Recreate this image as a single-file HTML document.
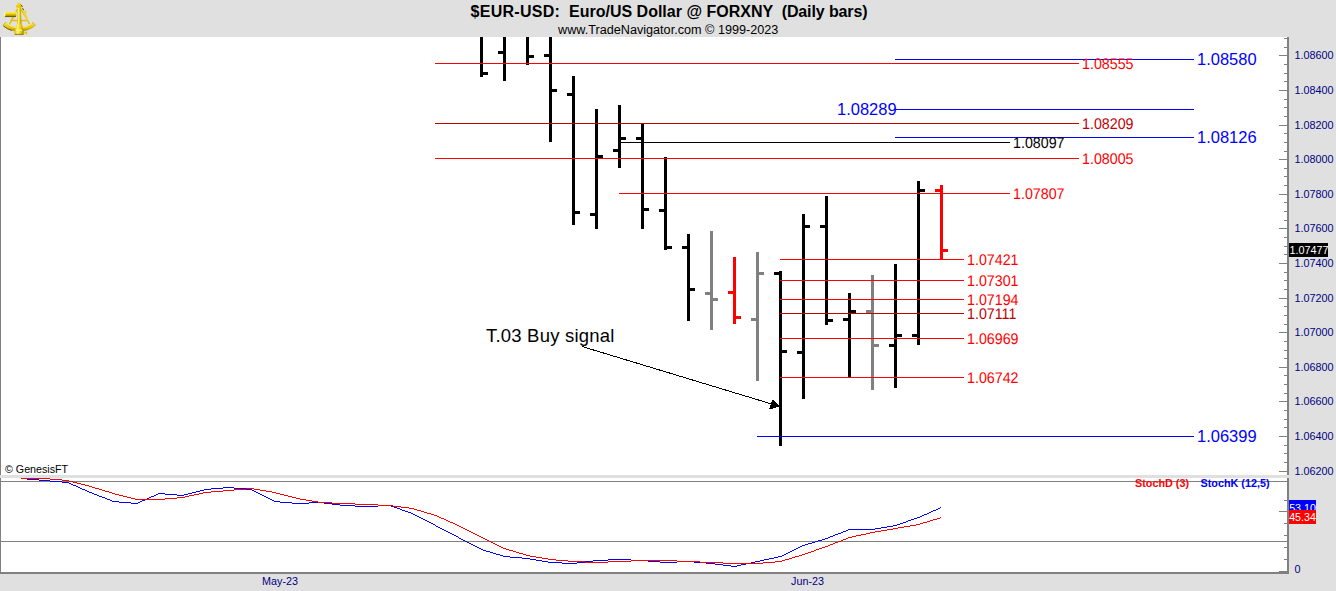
<!DOCTYPE html>
<html lang="en"><head><meta charset="utf-8"><title>$EUR-USD: Euro/US Dollar @ FORXNY (Daily bars)</title>
<style>
html,body{margin:0;padding:0}
body{width:1336px;height:591px;position:relative;overflow:hidden;background:#e0e0e0;font-family:"Liberation Sans",sans-serif;}
.r{position:absolute}
.t{position:absolute;white-space:pre;line-height:1;}
.ax{position:absolute;left:1294.5px;font-size:10.8px;color:#000080;line-height:12px;height:12px;white-space:pre}
svg{position:absolute;left:0;top:0}
</style></head><body>

<div class="r" style="left:0px;top:37px;width:1287px;height:438px;background:#fff;"></div>
<div class="r" style="left:0px;top:478px;width:1287px;height:94px;background:#fff;"></div>
<div class="r" style="left:0px;top:37px;width:1px;height:438px;background:#808080;"></div>
<div class="r" style="left:0px;top:478px;width:1px;height:96px;background:#808080;"></div>
<div class="r" style="left:1287px;top:37px;width:2px;height:438px;background:#808080;"></div>
<div class="r" style="left:1287px;top:478px;width:2px;height:96px;background:#808080;"></div>
<div class="r" style="left:0px;top:572px;width:1289px;height:2px;background:#808080;"></div>
<div class="r" style="left:1px;top:481px;width:1286px;height:1px;background:#808080;"></div>
<div class="r" style="left:1px;top:541px;width:1286px;height:1px;background:#808080;"></div>
<div class="t" id="title" style="left:470.5px;top:4px;font-size:16px;font-weight:bold;color:#000;"><span style="letter-spacing:.28px">$EUR-USD:</span>  Euro/US Dollar @ FORXNY  <span style="letter-spacing:-.12px">(Daily bars)</span></div>
<div class="t" id="sub" style="left:558px;top:24px;font-size:12.65px;color:#000;">www.TradeNavigator.com © 1999-2023</div>
<div class="r" style="left:1284px;top:38px;width:3px;height:1px;background:#808080;"></div>
<div class="r" style="left:1284px;top:47px;width:3px;height:1px;background:#808080;"></div>
<div class="r" style="left:1279px;top:55px;width:8px;height:1px;background:#808080;"></div>
<div class="r" style="left:1284px;top:64px;width:3px;height:1px;background:#808080;"></div>
<div class="r" style="left:1284px;top:73px;width:3px;height:1px;background:#808080;"></div>
<div class="r" style="left:1284px;top:81px;width:3px;height:1px;background:#808080;"></div>
<div class="r" style="left:1279px;top:90px;width:8px;height:1px;background:#808080;"></div>
<div class="r" style="left:1284px;top:99px;width:3px;height:1px;background:#808080;"></div>
<div class="r" style="left:1284px;top:107px;width:3px;height:1px;background:#808080;"></div>
<div class="r" style="left:1284px;top:116px;width:3px;height:1px;background:#808080;"></div>
<div class="r" style="left:1279px;top:125px;width:8px;height:1px;background:#808080;"></div>
<div class="r" style="left:1284px;top:133px;width:3px;height:1px;background:#808080;"></div>
<div class="r" style="left:1284px;top:142px;width:3px;height:1px;background:#808080;"></div>
<div class="r" style="left:1284px;top:151px;width:3px;height:1px;background:#808080;"></div>
<div class="r" style="left:1279px;top:159px;width:8px;height:1px;background:#808080;"></div>
<div class="r" style="left:1284px;top:168px;width:3px;height:1px;background:#808080;"></div>
<div class="r" style="left:1284px;top:176px;width:3px;height:1px;background:#808080;"></div>
<div class="r" style="left:1284px;top:185px;width:3px;height:1px;background:#808080;"></div>
<div class="r" style="left:1279px;top:194px;width:8px;height:1px;background:#808080;"></div>
<div class="r" style="left:1284px;top:202px;width:3px;height:1px;background:#808080;"></div>
<div class="r" style="left:1284px;top:211px;width:3px;height:1px;background:#808080;"></div>
<div class="r" style="left:1284px;top:220px;width:3px;height:1px;background:#808080;"></div>
<div class="r" style="left:1279px;top:228px;width:8px;height:1px;background:#808080;"></div>
<div class="r" style="left:1284px;top:237px;width:3px;height:1px;background:#808080;"></div>
<div class="r" style="left:1284px;top:246px;width:3px;height:1px;background:#808080;"></div>
<div class="r" style="left:1284px;top:254px;width:3px;height:1px;background:#808080;"></div>
<div class="r" style="left:1279px;top:263px;width:8px;height:1px;background:#808080;"></div>
<div class="r" style="left:1284px;top:272px;width:3px;height:1px;background:#808080;"></div>
<div class="r" style="left:1284px;top:280px;width:3px;height:1px;background:#808080;"></div>
<div class="r" style="left:1284px;top:289px;width:3px;height:1px;background:#808080;"></div>
<div class="r" style="left:1279px;top:298px;width:8px;height:1px;background:#808080;"></div>
<div class="r" style="left:1284px;top:306px;width:3px;height:1px;background:#808080;"></div>
<div class="r" style="left:1284px;top:315px;width:3px;height:1px;background:#808080;"></div>
<div class="r" style="left:1284px;top:324px;width:3px;height:1px;background:#808080;"></div>
<div class="r" style="left:1279px;top:332px;width:8px;height:1px;background:#808080;"></div>
<div class="r" style="left:1284px;top:341px;width:3px;height:1px;background:#808080;"></div>
<div class="r" style="left:1284px;top:350px;width:3px;height:1px;background:#808080;"></div>
<div class="r" style="left:1284px;top:358px;width:3px;height:1px;background:#808080;"></div>
<div class="r" style="left:1279px;top:367px;width:8px;height:1px;background:#808080;"></div>
<div class="r" style="left:1284px;top:375px;width:3px;height:1px;background:#808080;"></div>
<div class="r" style="left:1284px;top:384px;width:3px;height:1px;background:#808080;"></div>
<div class="r" style="left:1284px;top:393px;width:3px;height:1px;background:#808080;"></div>
<div class="r" style="left:1279px;top:401px;width:8px;height:1px;background:#808080;"></div>
<div class="r" style="left:1284px;top:410px;width:3px;height:1px;background:#808080;"></div>
<div class="r" style="left:1284px;top:419px;width:3px;height:1px;background:#808080;"></div>
<div class="r" style="left:1284px;top:427px;width:3px;height:1px;background:#808080;"></div>
<div class="r" style="left:1279px;top:436px;width:8px;height:1px;background:#808080;"></div>
<div class="r" style="left:1284px;top:445px;width:3px;height:1px;background:#808080;"></div>
<div class="r" style="left:1284px;top:453px;width:3px;height:1px;background:#808080;"></div>
<div class="r" style="left:1284px;top:462px;width:3px;height:1px;background:#808080;"></div>
<div class="r" style="left:1279px;top:471px;width:8px;height:1px;background:#808080;"></div>
<div class="ax" style="top:49px">1.08600</div>
<div class="ax" style="top:84px">1.08400</div>
<div class="ax" style="top:119px">1.08200</div>
<div class="ax" style="top:153px">1.08000</div>
<div class="ax" style="top:188px">1.07800</div>
<div class="ax" style="top:222px">1.07600</div>
<div class="ax" style="top:257px">1.07400</div>
<div class="ax" style="top:292px">1.07200</div>
<div class="ax" style="top:326px">1.07000</div>
<div class="ax" style="top:361px">1.06800</div>
<div class="ax" style="top:395px">1.06600</div>
<div class="ax" style="top:430px">1.06400</div>
<div class="ax" style="top:465px">1.06200</div>
<div class="r" style="left:1284px;top:500px;width:3px;height:1px;background:#808080;"></div>
<div class="r" style="left:1279px;top:511px;width:8px;height:1px;background:#808080;"></div>
<div class="r" style="left:1284px;top:523px;width:3px;height:1px;background:#808080;"></div>
<div class="r" style="left:1284px;top:535px;width:3px;height:1px;background:#808080;"></div>
<div class="r" style="left:1284px;top:547px;width:3px;height:1px;background:#808080;"></div>
<div class="r" style="left:1284px;top:559px;width:3px;height:1px;background:#808080;"></div>
<div class="r" style="left:1279px;top:571px;width:8px;height:1px;background:#808080;"></div>
<div class="ax" style="top:563px">0</div>
<div class="r" style="left:480px;top:37px;width:3px;height:40px;background:#000;"></div>
<div class="r" style="left:483px;top:72px;width:5px;height:3px;background:#000;"></div>
<div class="r" style="left:503px;top:37px;width:3px;height:44px;background:#000;"></div>
<div class="r" style="left:498px;top:51px;width:5px;height:3px;background:#000;"></div>
<div class="r" style="left:526px;top:37px;width:3px;height:28px;background:#000;"></div>
<div class="r" style="left:529px;top:55px;width:5px;height:3px;background:#000;"></div>
<div class="r" style="left:549px;top:37px;width:3px;height:105px;background:#000;"></div>
<div class="r" style="left:544px;top:54px;width:5px;height:3px;background:#000;"></div>
<div class="r" style="left:552px;top:89px;width:5px;height:3px;background:#000;"></div>
<div class="r" style="left:572px;top:76px;width:3px;height:149px;background:#000;"></div>
<div class="r" style="left:567px;top:93px;width:5px;height:3px;background:#000;"></div>
<div class="r" style="left:575px;top:211px;width:5px;height:3px;background:#000;"></div>
<div class="r" style="left:595px;top:109px;width:3px;height:120px;background:#000;"></div>
<div class="r" style="left:590px;top:213px;width:5px;height:3px;background:#000;"></div>
<div class="r" style="left:598px;top:155px;width:5px;height:3px;background:#000;"></div>
<div class="r" style="left:618px;top:105px;width:3px;height:63px;background:#000;"></div>
<div class="r" style="left:613px;top:149px;width:5px;height:3px;background:#000;"></div>
<div class="r" style="left:621px;top:137px;width:5px;height:3px;background:#000;"></div>
<div class="r" style="left:641px;top:124px;width:3px;height:105px;background:#000;"></div>
<div class="r" style="left:636px;top:137px;width:5px;height:3px;background:#000;"></div>
<div class="r" style="left:644px;top:208px;width:5px;height:3px;background:#000;"></div>
<div class="r" style="left:664px;top:157px;width:3px;height:93px;background:#000;"></div>
<div class="r" style="left:659px;top:209px;width:5px;height:3px;background:#000;"></div>
<div class="r" style="left:667px;top:246px;width:5px;height:3px;background:#000;"></div>
<div class="r" style="left:687px;top:234px;width:3px;height:87px;background:#000;"></div>
<div class="r" style="left:682px;top:246px;width:5px;height:3px;background:#000;"></div>
<div class="r" style="left:690px;top:288px;width:5px;height:3px;background:#000;"></div>
<div class="r" style="left:710px;top:231px;width:3px;height:99px;background:#808080;"></div>
<div class="r" style="left:705px;top:292px;width:5px;height:3px;background:#808080;"></div>
<div class="r" style="left:713px;top:298px;width:5px;height:3px;background:#808080;"></div>
<div class="r" style="left:733px;top:257px;width:3px;height:67px;background:#ff0000;"></div>
<div class="r" style="left:728px;top:291px;width:5px;height:3px;background:#ff0000;"></div>
<div class="r" style="left:736px;top:316px;width:5px;height:3px;background:#ff0000;"></div>
<div class="r" style="left:756px;top:252px;width:3px;height:129px;background:#808080;"></div>
<div class="r" style="left:751px;top:318px;width:5px;height:3px;background:#808080;"></div>
<div class="r" style="left:759px;top:272px;width:5px;height:3px;background:#808080;"></div>
<div class="r" style="left:779px;top:271px;width:3px;height:175px;background:#000;"></div>
<div class="r" style="left:774px;top:272px;width:5px;height:3px;background:#000;"></div>
<div class="r" style="left:782px;top:350px;width:5px;height:3px;background:#000;"></div>
<div class="r" style="left:802px;top:214px;width:3px;height:185px;background:#000;"></div>
<div class="r" style="left:797px;top:351px;width:5px;height:3px;background:#000;"></div>
<div class="r" style="left:805px;top:225px;width:5px;height:3px;background:#000;"></div>
<div class="r" style="left:825px;top:196px;width:3px;height:129px;background:#000;"></div>
<div class="r" style="left:820px;top:225px;width:5px;height:3px;background:#000;"></div>
<div class="r" style="left:828px;top:319px;width:5px;height:3px;background:#000;"></div>
<div class="r" style="left:848px;top:293px;width:3px;height:84px;background:#000;"></div>
<div class="r" style="left:843px;top:318px;width:5px;height:3px;background:#000;"></div>
<div class="r" style="left:851px;top:310px;width:5px;height:3px;background:#000;"></div>
<div class="r" style="left:871px;top:275px;width:3px;height:115px;background:#808080;"></div>
<div class="r" style="left:866px;top:310px;width:5px;height:3px;background:#808080;"></div>
<div class="r" style="left:874px;top:344px;width:5px;height:3px;background:#808080;"></div>
<div class="r" style="left:894px;top:264px;width:3px;height:124px;background:#000;"></div>
<div class="r" style="left:889px;top:344px;width:5px;height:3px;background:#000;"></div>
<div class="r" style="left:897px;top:334px;width:5px;height:3px;background:#000;"></div>
<div class="r" style="left:917px;top:181px;width:3px;height:164px;background:#000;"></div>
<div class="r" style="left:912px;top:334px;width:5px;height:3px;background:#000;"></div>
<div class="r" style="left:920px;top:189px;width:5px;height:3px;background:#000;"></div>
<div class="r" style="left:940px;top:185px;width:3px;height:75px;background:#ff0000;"></div>
<div class="r" style="left:935px;top:189px;width:5px;height:3px;background:#ff0000;"></div>
<div class="r" style="left:943px;top:249px;width:5px;height:3px;background:#ff0000;"></div>
<div class="r" style="left:435px;top:63px;width:644px;height:1px;background:#ff0000;"></div>
<div class="r" style="left:435px;top:123px;width:644px;height:1px;background:#c00000;"></div>
<div class="r" style="left:435px;top:158px;width:644px;height:1px;background:#ff0000;"></div>
<div class="r" style="left:619px;top:193px;width:391px;height:1px;background:#ff0000;"></div>
<div class="r" style="left:780px;top:259px;width:184px;height:1px;background:#ff0000;"></div>
<div class="r" style="left:780px;top:280px;width:184px;height:1px;background:#ff0000;"></div>
<div class="r" style="left:780px;top:299px;width:184px;height:1px;background:#ff0000;"></div>
<div class="r" style="left:780px;top:313px;width:184px;height:1px;background:#c00000;"></div>
<div class="r" style="left:780px;top:338px;width:184px;height:1px;background:#ff0000;"></div>
<div class="r" style="left:780px;top:377px;width:184px;height:1px;background:#ff0000;"></div>
<div class="r" style="left:621px;top:142px;width:389px;height:1px;background:#000;"></div>
<div class="r" style="left:895px;top:59px;width:299px;height:1px;background:#0000ff;"></div>
<div class="r" style="left:895px;top:109px;width:299px;height:1px;background:#0000ff;"></div>
<div class="r" style="left:895px;top:137px;width:299px;height:1px;background:#0000ff;"></div>
<div class="r" style="left:757px;top:436px;width:437px;height:1px;background:#0000ff;"></div>
<div class="t"  style="left:1082px;top:56.0px;height:18px;line-height:18px;font-size:15.4px;color:#ff0000;text-rendering:geometricPrecision;transform:scaleX(0.926);transform-origin:0 50%;">1.08555</div>
<div class="t"  style="left:1082px;top:116.0px;height:18px;line-height:18px;font-size:15.4px;color:#c00000;text-rendering:geometricPrecision;transform:scaleX(0.926);transform-origin:0 50%;">1.08209</div>
<div class="t"  style="left:1082px;top:151.0px;height:18px;line-height:18px;font-size:15.4px;color:#ff0000;text-rendering:geometricPrecision;transform:scaleX(0.926);transform-origin:0 50%;">1.08005</div>
<div class="t"  style="left:1013px;top:186.0px;height:18px;line-height:18px;font-size:15.4px;color:#ff0000;text-rendering:geometricPrecision;transform:scaleX(0.926);transform-origin:0 50%;">1.07807</div>
<div class="t"  style="left:967px;top:252.0px;height:18px;line-height:18px;font-size:15.4px;color:#ff0000;text-rendering:geometricPrecision;transform:scaleX(0.926);transform-origin:0 50%;">1.07421</div>
<div class="t"  style="left:967px;top:273.0px;height:18px;line-height:18px;font-size:15.4px;color:#ff0000;text-rendering:geometricPrecision;transform:scaleX(0.926);transform-origin:0 50%;">1.07301</div>
<div class="t"  style="left:967px;top:292.0px;height:18px;line-height:18px;font-size:15.4px;color:#ff0000;text-rendering:geometricPrecision;transform:scaleX(0.926);transform-origin:0 50%;">1.07194</div>
<div class="t"  style="left:967px;top:306.0px;height:18px;line-height:18px;font-size:15.4px;color:#c00000;text-rendering:geometricPrecision;transform:scaleX(0.926);transform-origin:0 50%;">1.07111</div>
<div class="t"  style="left:967px;top:331.0px;height:18px;line-height:18px;font-size:15.4px;color:#ff0000;text-rendering:geometricPrecision;transform:scaleX(0.926);transform-origin:0 50%;">1.06969</div>
<div class="t"  style="left:967px;top:370.0px;height:18px;line-height:18px;font-size:15.4px;color:#ff0000;text-rendering:geometricPrecision;transform:scaleX(0.926);transform-origin:0 50%;">1.06742</div>
<div class="t"  style="left:1013px;top:135.0px;height:18px;line-height:18px;font-size:15.4px;color:#000;text-rendering:geometricPrecision;transform:scaleX(0.926);transform-origin:0 50%;">1.08097</div>
<div class="t"  style="left:1197px;top:49.8px;height:19px;line-height:19px;font-size:16.5px;color:#0000ff;">1.08580</div>
<div class="t"  style="left:837px;top:99.8px;height:19px;line-height:19px;font-size:16.5px;color:#0000ff;">1.08289</div>
<div class="t"  style="left:1197px;top:127.8px;height:19px;line-height:19px;font-size:16.5px;color:#0000ff;">1.08126</div>
<div class="t"  style="left:1197px;top:426.8px;height:19px;line-height:19px;font-size:16.5px;color:#0000ff;">1.06399</div>
<div class="t" id="buy" style="left:486px;top:327.1px;font-size:18.5px;letter-spacing:0.2px;color:#000">T.03 Buy signal</div>
<div class="r" style="left:1289px;top:243px;width:39px;height:14px;background:#000;"></div>
<div class="t" style="left:1289.5px;top:244px;font-size:10.8px;line-height:12px;color:#fff">1.07477</div>
<div class="r" style="left:1289px;top:500px;width:27px;height:12px;background:#0000ff;"></div>
<div class="t" style="left:1289px;top:501.5px;width:27px;text-align:center;font-size:10.7px;line-height:12px;color:#fff;height:9px;overflow:hidden">53.10</div>
<div class="r" style="left:1289px;top:510px;width:27px;height:14px;background:#ff0000;"></div>
<div class="t" style="left:1289px;top:511px;width:27px;text-align:center;font-size:10.7px;line-height:12px;color:#fff">45.34</div>
<div class="t" style="left:1135px;top:478px;font-size:10.8px;font-weight:bold;color:#ff0000;line-height:11px">StochD (3)</div>
<div class="t" style="left:1200.5px;top:478px;font-size:10.8px;font-weight:bold;color:#0000ff;line-height:11px">StochK (12,5)</div>
<div class="t" style="left:5px;top:463px;font-size:10.7px;color:#000;line-height:12px">© GenesisFT</div>
<div class="t" style="left:262px;top:575px;font-size:10.8px;color:#000080;line-height:12px">May-23</div>
<div class="t" style="left:791px;top:575px;font-size:10.8px;color:#000080;line-height:12px">Jun-23</div>
<svg width="1336" height="591" viewBox="0 0 1336 591" shape-rendering="crispEdges">
<path d="M21 478.5h6M27 479.5h12M39 480.5h11M50 481.5h12M62 482.5h7M69 483.5h2M71 484.5h2M73 485.5h3M76 486.5h2M78 487.5h2M80 488.5h2M82 489.5h3M85 490.5h2M87 491.5h2M89 492.5h3M92 493.5h2M94 494.5h3M97 495.5h2M99 496.5h3M102 497.5h3M105 498.5h2M107 499.5h3M110 500.5h2M112 501.5h7M119 502.5h12M131 503.5h7M138 502.5h2M140 501.5h2M142 500.5h3M145 499.5h2M147 498.5h2M149 497.5h2M151 496.5h3M154 495.5h2M156 494.5h2M158 493.5h7M165 494.5h12M177 495.5h7M184 494.5h4M188 493.5h4M192 492.5h4M196 491.5h4M200 490.5h4M204 489.5h7M211 488.5h12M223 487.5h11M234 488.5h12M246 489.5h6M252 490.5h2M254 491.5h2M256 492.5h2M258 493.5h2M260 494.5h2M262 495.5h2M264 496.5h2M266 497.5h2M268 498.5h2M270 499.5h2M272 500.5h2M274 501.5h6M280 502.5h12M292 503.5h17M309 502.5h15M324 503.5h8M332 504.5h8M340 505.5h15M355 506.5h23M378 505.5h13M391 506.5h3M394 507.5h3M397 508.5h3M400 509.5h2M402 510.5h3M405 511.5h3M408 512.5h3M411 513.5h2M413 514.5h2M415 515.5h2M417 516.5h2M419 517.5h2M421 518.5h2M423 519.5h2M425 520.5h2M427 521.5h2M429 522.5h2M431 523.5h2M433 524.5h2M435 525.5h1M436 526.5h2M438 527.5h2M440 528.5h2M442 529.5h2M444 530.5h2M446 531.5h2M448 532.5h2M450 533.5h2M452 534.5h2M454 535.5h2M456 536.5h2M458 537.5h1M459 538.5h2M461 539.5h2M463 540.5h2M465 541.5h2M467 542.5h2M469 543.5h2M471 544.5h2M473 545.5h2M475 546.5h2M477 547.5h2M479 548.5h2M481 549.5h2M483 550.5h3M486 551.5h4M490 552.5h3M493 553.5h3M496 554.5h4M500 555.5h3M503 556.5h7M510 557.5h12M522 558.5h8M530 559.5h6M536 560.5h6M542 561.5h6M548 562.5h14M562 563.5h15M577 562.5h8M585 561.5h8M593 560.5h15M608 559.5h23M631 560.5h17M648 561.5h12M660 562.5h17M677 561.5h17M694 562.5h12M706 563.5h9M715 564.5h8M723 565.5h8M731 566.5h6M737 565.5h4M741 564.5h5M746 563.5h5M751 562.5h4M755 561.5h5M760 560.5h4M764 559.5h5M769 558.5h5M774 557.5h4M778 556.5h4M782 555.5h2M784 554.5h2M786 553.5h2M788 552.5h2M790 551.5h2M792 550.5h2M794 549.5h2M796 548.5h2M798 547.5h2M800 546.5h2M802 545.5h3M805 544.5h3M808 543.5h4M812 542.5h3M815 541.5h3M818 540.5h4M822 539.5h3M825 538.5h3M828 537.5h2M830 536.5h3M833 535.5h2M835 534.5h3M838 533.5h3M841 532.5h2M843 531.5h3M846 530.5h2M848 529.5h27M875 528.5h6M881 527.5h6M887 526.5h6M893 525.5h4M897 524.5h3M900 523.5h3M903 522.5h3M906 521.5h2M908 520.5h3M911 519.5h3M914 518.5h3M917 517.5h3M920 516.5h2M922 515.5h2M924 514.5h3M927 513.5h2M929 512.5h2M931 511.5h2M933 510.5h3M936 509.5h2M938 508.5h2M940 507.5h1" fill="none" stroke="#0000ff" stroke-width="1"/>
<path d="M21 478.5h29M50 479.5h12M62 480.5h7M69 481.5h4M73 482.5h4M77 483.5h4M81 484.5h4M85 485.5h4M89 486.5h3M92 487.5h3M95 488.5h4M99 489.5h3M102 490.5h3M105 491.5h4M109 492.5h3M112 493.5h3M115 494.5h4M119 495.5h4M123 496.5h4M127 497.5h4M131 498.5h4M135 499.5h30M165 498.5h12M177 497.5h8M185 496.5h4M189 495.5h5M194 494.5h5M199 493.5h4M203 492.5h8M211 491.5h12M223 490.5h11M234 489.5h12M246 488.5h8M254 489.5h6M260 490.5h6M266 491.5h6M272 492.5h4M276 493.5h4M280 494.5h4M284 495.5h4M288 496.5h4M292 497.5h4M296 498.5h4M300 499.5h6M306 500.5h6M312 501.5h6M318 502.5h14M332 503.5h23M355 504.5h23M378 505.5h15M393 506.5h8M401 507.5h8M409 508.5h5M414 509.5h3M417 510.5h4M421 511.5h3M424 512.5h3M427 513.5h4M431 514.5h3M434 515.5h3M437 516.5h2M439 517.5h2M441 518.5h3M444 519.5h2M446 520.5h2M448 521.5h2M450 522.5h3M453 523.5h2M455 524.5h2M457 525.5h2M459 526.5h2M461 527.5h2M463 528.5h2M465 529.5h2M467 530.5h2M469 531.5h2M471 532.5h2M473 533.5h2M475 534.5h2M477 535.5h2M479 536.5h2M481 537.5h2M483 538.5h2M485 539.5h2M487 540.5h2M489 541.5h2M491 542.5h2M493 543.5h2M495 544.5h2M497 545.5h2M499 546.5h2M501 547.5h2M503 548.5h3M506 549.5h3M509 550.5h4M513 551.5h3M516 552.5h3M519 553.5h4M523 554.5h3M526 555.5h4M530 556.5h6M536 557.5h6M542 558.5h6M548 559.5h8M556 560.5h12M568 561.5h17M585 562.5h23M608 561.5h23M631 560.5h46M677 561.5h23M700 562.5h23M723 563.5h40M763 562.5h12M775 561.5h7M782 560.5h3M785 559.5h4M789 558.5h3M792 557.5h3M795 556.5h4M799 555.5h3M802 554.5h3M805 553.5h3M808 552.5h3M811 551.5h3M814 550.5h2M816 549.5h3M819 548.5h3M822 547.5h3M825 546.5h3M828 545.5h2M830 544.5h3M833 543.5h2M835 542.5h3M838 541.5h3M841 540.5h2M843 539.5h3M846 538.5h2M848 537.5h4M852 536.5h4M856 535.5h5M861 534.5h5M866 533.5h4M870 532.5h5M875 531.5h6M881 530.5h6M887 529.5h6M893 528.5h5M898 527.5h6M904 526.5h6M910 525.5h6M916 524.5h4M920 523.5h3M923 522.5h4M927 521.5h3M930 520.5h3M933 519.5h4M937 518.5h3M940 517.5h1" fill="none" stroke="#ff0000" stroke-width="1"/>
<line x1="582" y1="346.5" x2="775" y2="405" stroke="#000" stroke-width="1"/>
<polygon points="779.5,406.5 772.5,399.5 769,409.5" fill="#000"/>
</svg>
<div class="r" style="left:0px;top:475px;width:1336px;height:3px;background:#e0e0e0;"></div>
<svg width="40" height="37" viewBox="0 0 40 37" style="left:0;top:0">
<defs>
<linearGradient id="gv" x1="0" y1="0" x2="0" y2="1"><stop offset="0" stop-color="#fff36b"/><stop offset="0.45" stop-color="#f0d000"/><stop offset="1" stop-color="#8f7400"/></linearGradient>
<linearGradient id="gh" x1="0" y1="0" x2="1" y2="0"><stop offset="0" stop-color="#d9b800"/><stop offset="0.35" stop-color="#fff171"/><stop offset="0.7" stop-color="#e8c800"/><stop offset="1" stop-color="#9a7d00"/></linearGradient>
<linearGradient id="ga" x1="0" y1="0" x2="0" y2="1"><stop offset="0" stop-color="#fbe23a"/><stop offset="0.6" stop-color="#e6c400"/><stop offset="1" stop-color="#a58600"/></linearGradient>
</defs>
<!-- frame legs and brace -->
<g stroke="#e2c010" stroke-width="1.5" stroke-linecap="round" fill="none">
<path d="M17.2 9.5 L9.6 24"/><path d="M21.2 9.5 L29.2 23.5"/><path d="M11.5 20.4 H27.2"/>
<path d="M13 17.2 L11 21.5"/>
</g>
<g stroke="#f2d632" stroke-width="2" stroke-linecap="round" fill="none"><path d="M24 12 L27.3 19.5"/><path d="M25.6 11.2 L24.6 14.2"/></g>
<path d="M22.6 8.2 L23.6 10.2" stroke="#4d3f00" stroke-width="1" fill="none"/>
<!-- arc -->
<path d="M3 25.2 A24 24 0 0 0 35.4 25.2 L32.9 22.4 A20.2 20.2 0 0 1 5.5 22.4 Z" fill="url(#ga)" stroke="#b39200" stroke-width="0.5"/>
<path d="M3.4 26 A24 24 0 0 0 12 30.6" stroke="#6b5700" stroke-width="0.9" fill="none"/>
<path d="M6.4 23.4 A20.4 20.4 0 0 0 32 23.4" stroke="#fff38a" stroke-width="1" fill="none"/>
<!-- telescope -->
<rect x="4" y="11.8" width="12.2" height="4.9" rx="1" fill="url(#gv)"/>
<rect x="4" y="11.8" width="1.4" height="4.9" rx="0.6" fill="#fff7a0"/>
<path d="M5 16.6 H16" stroke="#5c4a00" stroke-width="0.8"/>
<!-- pillar -->
<path d="M17.5 7 H20.9 L21.4 24.5 H17 Z" fill="url(#gh)"/>
<!-- knob -->
<ellipse cx="19.2" cy="6.2" rx="3.3" ry="1.7" fill="#eccb08"/><ellipse cx="19.1" cy="4.2" rx="2.1" ry="1.5" fill="#f3d620"/>
<path d="M20.6 5 Q22.4 5.6 22.3 7" stroke="#4d3f00" stroke-width="0.8" fill="none"/>
<!-- base -->
<path d="M16.6 24 H21.9 L24 33 Q24 34.6 22.4 34.6 H15.8 Q14.1 34.6 14.2 33 Z" fill="url(#gh)"/>
<path d="M16 30.2 H22.2" stroke="#fff6a0" stroke-width="1.1"/>
<path d="M14.6 34.4 H23.6" stroke="#7a6300" stroke-width="0.8"/>
<!-- small knob -->
<path d="M23.6 32.8 H26 M26.4 31.6 V34.4" stroke="#e6c400" stroke-width="1.3" fill="none"/>
</svg>

</body></html>
